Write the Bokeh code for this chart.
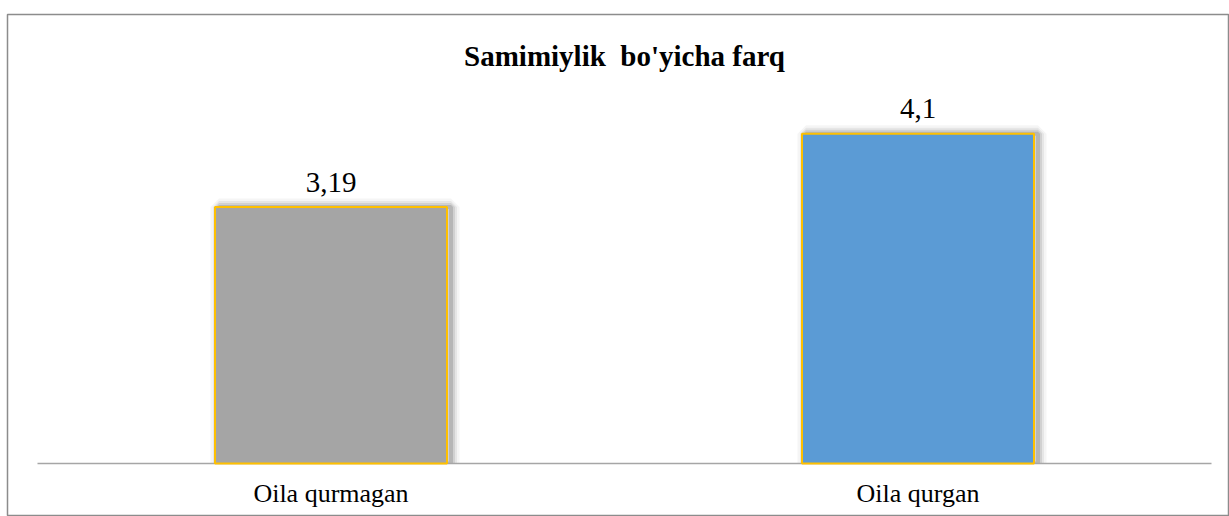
from bokeh.plotting import figure
from bokeh.models import Range1d, Label, ColumnDataSource
from bokeh.transform import dodge
from bokeh.core.properties import value
from bokeh.embed import file_html
from bokeh.resources import INLINE

# ---- data ----
title_text = "Samimiylik  bo'yicha farq"
categories = ["Oila qurmagan", "Oila qurgan"]
values = [3.19, 4.1]
value_labels = ["3,19", "4,1"]
colors = ["#A5A5A5", "#5B9BD5"]

xs = [i + 0.5 for i in range(len(categories))]
src = ColumnDataSource(dict(x=xs, top=values, lab=value_labels, cat=categories, color=colors,
                            zero=[0] * len(values)))

PX_X = 587.0   # pixels per category
PX_Y = 80.4    # pixels per value unit
p = figure(width=1229, height=516,
           x_range=Range1d(-30 / PX_X, len(categories) + 17 / PX_X),
           y_range=Range1d(-53 / PX_Y, 449 / PX_Y),
           min_border_left=7, min_border_right=1, min_border_top=14, min_border_bottom=0,
           x_axis_location=None, y_axis_location=None,
           toolbar_location=None, output_backend="svg")
p.xgrid.visible = False
p.ygrid.visible = False
p.outline_line_color = "#8c8c8c"
p.outline_line_width = 1.5
p.background_fill_color = "white"
p.border_fill_color = "white"

BAR_W = 232 / PX_X

# soft shadow to the right of the bars
for w, a in [(17, 0.04), (12, 0.06), (8, 0.09), (4, 0.13)]:
    p.vbar(x=dodge("x", 4 / PX_X, range=p.x_range), top="top", bottom=0, width=BAR_W,
           source=src, fill_alpha=0, line_color="black", line_alpha=a, line_width=w)
# hide shadow below the baseline
p.vbar(x=dodge("x", 4 / PX_X, range=p.x_range), top=0, bottom=-0.2, width=BAR_W + 30 / PX_X,
       source=src, fill_color="white", line_color=None)

# category axis baseline
p.segment(x0=0, x1=len(categories), y0=0, y1=0, line_color="#a6a6a6", line_width=1.5)

# bars
p.vbar(x="x", top="top", bottom=0, width=BAR_W, source=src,
       fill_color="color", line_color="#FFC000", line_width=2)

# value labels
p.text(x="x", y="top", text="lab", source=src, text_font=value("Liberation Serif"),
       text_font_size="29px", text_align="center", text_baseline="alphabetic",
       y_offset=-25, text_color="black")

# category labels
p.text(x="x", y="zero", text="cat", source=src, text_font=value("Liberation Serif"),
       text_font_size="26px", text_align="center", text_baseline="alphabetic",
       y_offset=30, text_color="black")

# title (double space kept visible in SVG with a no-break space)
p.add_layout(Label(x=len(categories) / 2, y=408 / PX_Y,
                   text=title_text.replace("  ", "\u00a0 "), text_align="center",
                   text_baseline="alphabetic", text_font="Liberation Serif",
                   text_font_style="bold", text_font_size="29px", text_color="black"))

open("out.html", "w").write(file_html(p, INLINE))
